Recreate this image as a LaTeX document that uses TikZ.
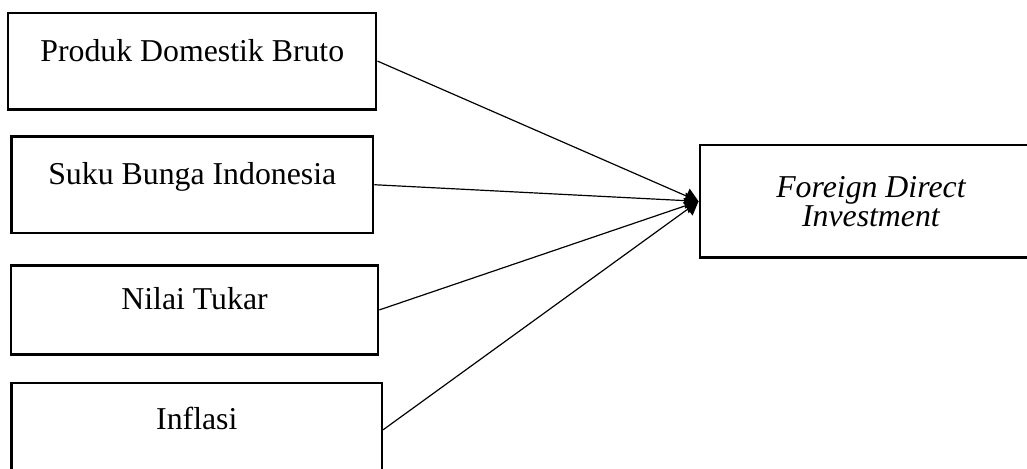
\documentclass[tikz,border=0pt]{standalone}
\usepackage{fontspec}
\setmainfont{Liberation Serif}
\usetikzlibrary{arrows.meta}

\begin{document}
\begin{tikzpicture}[panah/.style={draw, line width=0.45pt, -{Triangle[length=5pt,width=6pt]}}]
            \path[use as bounding box, clip] (0,0) rectangle (13.62,-6.21);
            \begin{scope}[every node/.style={draw, line width=0.9pt, inner sep=0pt,
                            font=\fontsize{12}{11}\selectfont}]

                \node[minimum width=4.88cm, text height=0.64cm, text depth=0.64cm] (pdb) at (2.55,-0.81) {Produk Domestik Bruto};
                \node[minimum width=4.80cm, text height=0.64cm, text depth=0.64cm] (sbi) at (2.55,-2.45) {Suku Bunga Indonesia};
                \node[minimum width=4.87cm, text height=0.59cm, text depth=0.59cm] (kurs) at (2.58,-4.11) {Nilai Tukar};
                \node[minimum width=4.91cm, text height=0.62cm, text depth=0.62cm] (inf) at (2.61,-5.70) {Inflasi};
                \node[minimum width=4.54cm, minimum height=1.49cm, align=center,
                      font=\fontsize{12}{10.9}\selectfont\itshape] (fdi) at (11.55,-2.67) {Foreign Direct\\Investment};

            \end{scope}

            \path (pdb.east) edge[panah] (fdi.west);
            \path (sbi.east) edge[panah] (fdi.west);
            \path (kurs.east) edge[panah] (fdi.west);
            \path (inf.east) edge[panah] (fdi.west);

\end{tikzpicture}
\end{document}
